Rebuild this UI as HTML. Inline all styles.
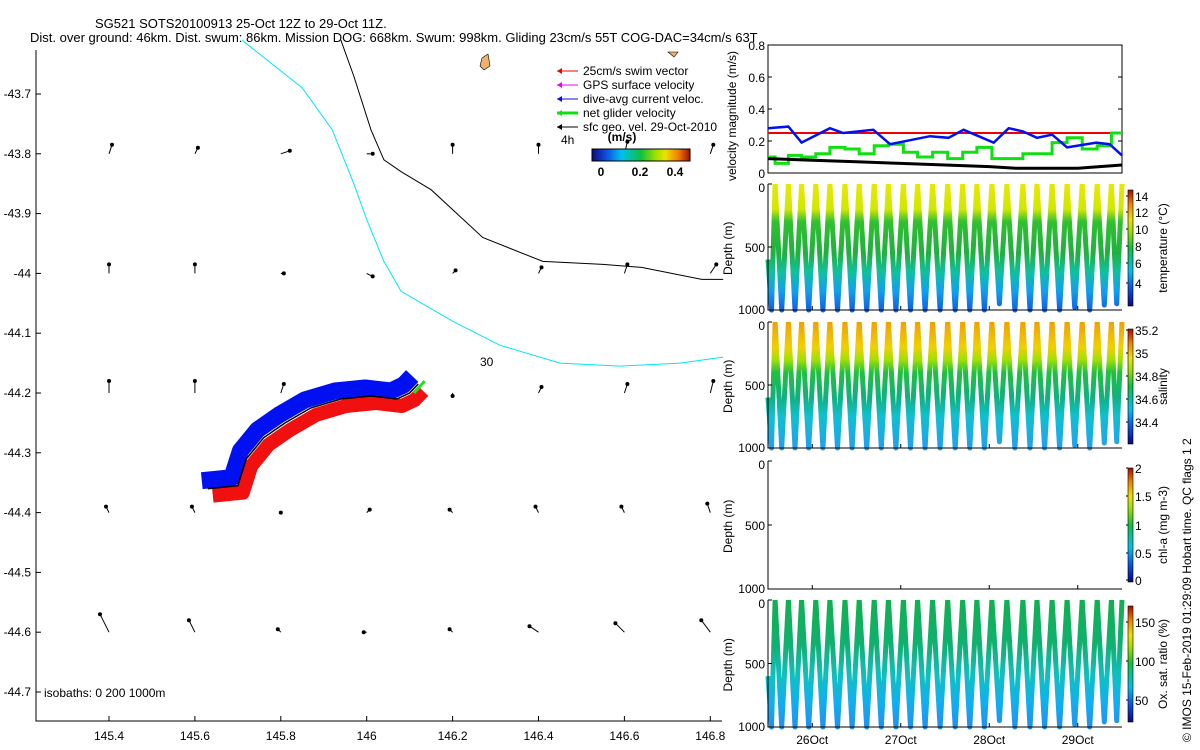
<!DOCTYPE html>
<html><head><meta charset="utf-8"><style>
body{margin:0;background:#fff;}
svg{display:block;font-family:"Liberation Sans",sans-serif;}
text{font-size:12px;fill:#000;}
</style></head><body>
<svg id="s" width="1200" height="750" viewBox="0 0 1200 750" xmlns="http://www.w3.org/2000/svg">
<defs>
<linearGradient id="jetH" x1="0" x2="1" y1="0" y2="0">
<stop offset="0" stop-color="#0a0a80"/><stop offset="0.15" stop-color="#1050e0"/><stop offset="0.3" stop-color="#00c0f0"/><stop offset="0.5" stop-color="#10c040"/><stop offset="0.65" stop-color="#a0e000"/><stop offset="0.75" stop-color="#f0e000"/><stop offset="0.88" stop-color="#f08000"/><stop offset="1" stop-color="#a01000"/></linearGradient>
<linearGradient id="jetV" x1="0" x2="0" y1="1" y2="0">
<stop offset="0" stop-color="#0a0a80"/><stop offset="0.15" stop-color="#1050e0"/><stop offset="0.3" stop-color="#00c0f0"/><stop offset="0.5" stop-color="#10c040"/><stop offset="0.65" stop-color="#a0e000"/><stop offset="0.75" stop-color="#f0e000"/><stop offset="0.88" stop-color="#f08000"/><stop offset="1" stop-color="#a01000"/></linearGradient>
<linearGradient id="gT" gradientUnits="userSpaceOnUse" x1="0" x2="0" y1="184" y2="310">
<stop offset="0" stop-color="#e8e800"/><stop offset="0.2" stop-color="#d0e800"/><stop offset="0.3" stop-color="#30c030"/><stop offset="0.55" stop-color="#20b040"/><stop offset="0.7" stop-color="#10c0a0"/><stop offset="0.85" stop-color="#10a0f0"/><stop offset="1" stop-color="#1060e0"/></linearGradient>
<linearGradient id="gS" gradientUnits="userSpaceOnUse" x1="0" x2="0" y1="322" y2="448">
<stop offset="0" stop-color="#f0a000"/><stop offset="0.2" stop-color="#f0d000"/><stop offset="0.3" stop-color="#a0e000"/><stop offset="0.4" stop-color="#20c040"/><stop offset="0.6" stop-color="#10b080"/><stop offset="0.75" stop-color="#10c0d0"/><stop offset="1" stop-color="#20a0f0"/></linearGradient>
<linearGradient id="gO" gradientUnits="userSpaceOnUse" x1="0" x2="0" y1="600" y2="727">
<stop offset="0" stop-color="#10b050"/><stop offset="0.35" stop-color="#10b070"/><stop offset="0.6" stop-color="#10c0c0"/><stop offset="0.8" stop-color="#10b0f0"/><stop offset="1" stop-color="#2090f0"/></linearGradient>
</defs>
<g id="titles">
<text x="95" y="28" style="font-size:13px">SG521 SOTS20100913 25-Oct 12Z to 29-Oct 11Z.</text>
<text x="30" y="42" style="font-size:13px">Dist. over ground: 46km. Dist. swum: 86km. Mission DOG: 668km. Swum: 998km. Gliding 23cm/s 55T COG-DAC=34cm/s 63T</text>
</g>
<g id="map"></g>
<g id="right"></g>
<text transform="translate(1191,742) rotate(-90)">© IMOS 15-Feb-2019 01:29:09 Hobart time. QC flags 1  2</text>
</svg>
<script>
// ---------- Map data ----------
const lonTicks=[145.4,145.6,145.8,146,146.2,146.4,146.6,146.8];
const latTicks=[-43.7,-43.8,-43.9,-44,-44.1,-44.2,-44.3,-44.4,-44.5,-44.6,-44.7];
const gridLons=[145.4,145.6,145.8,146,146.2,146.4,146.6,146.8];
const gridLats=[-43.8,-44.0,-44.2,-44.4,-44.6];
const gridU=[[0.01,0.01,0.03,0.02,0,0,0.01,0.01],[0,0,0.01,0.02,0.01,0.01,0.01,0.02],[0,0,0.01,0,0,0.01,0.01,0.01],[-0.01,-0.01,0,0.01,-0.01,-0.01,-0.01,-0.01],[-0.03,-0.02,-0.01,-0.01,-0.01,-0.03,-0.03,-0.03]];
const gridV=[[0.03,0.02,0.01,0,0.03,0.03,0.04,0.03],[0.03,0.03,0,-0.01,0.01,0.02,0.03,0.03],[0.04,0.04,0.03,0,-0.01,0.02,0.03,0.04],[0.02,0.02,0,0.01,0.01,0.02,0.02,0.03],[0.06,0.04,0.01,0,0.01,0.02,0.03,0.04]];
const isoCyanLon=[145.71,145.85,145.92,145.97,146.0,146.04,146.08,146.2,146.31,146.45,146.59,146.73,146.83];
const isoCyanLat=[-43.61,-43.69,-43.76,-43.85,-43.91,-43.98,-44.03,-44.08,-44.12,-44.15,-44.155,-44.15,-44.14];
const isoBlackLon=[145.94,145.97,146.01,146.04,146.08,146.15,146.27,146.41,146.55,146.64,146.78,146.83];
const isoBlackLat=[-43.61,-43.67,-43.76,-43.81,-43.83,-43.86,-43.94,-43.98,-43.985,-43.99,-44.01,-44.01];
const trackLon=[145.63,145.7,145.72,145.76,145.81,145.87,145.94,146.01,146.07,146.1,146.12];
const trackLat=[-44.36,-44.355,-44.31,-44.275,-44.25,-44.225,-44.21,-44.205,-44.21,-44.2,-44.185];
// ---------- Time-series data ----------
const velTicks=[0,0.2,0.4,0.6,0.8];
const blueT=[25.5,25.73,25.88,26.2,26.35,26.69,26.88,27.33,27.54,27.71,28.05,28.22,28.38,28.54,28.71,28.88,29.21,29.36,29.5];
const blueV=[0.28,0.29,0.19,0.28,0.25,0.27,0.18,0.23,0.22,0.27,0.19,0.28,0.26,0.22,0.24,0.16,0.19,0.18,0.11];
const redV=0.25;
const blackT=[25.5,26.0,26.5,27.0,27.5,28.0,28.3,28.7,29.0,29.5];
const blackV=[0.09,0.08,0.07,0.06,0.05,0.04,0.03,0.03,0.03,0.05];
const diveT=[25.5,25.58,25.73,25.88,26.04,26.2,26.37,26.53,26.7,26.86,27.03,27.19,27.36,27.53,27.7,27.86,28.03,28.2,28.38,28.54,28.71,28.88,29.05,29.22,29.38,29.5];
const greenV=[0.1,0.06,0.11,0.1,0.12,0.16,0.15,0.12,0.17,0.18,0.13,0.1,0.13,0.09,0.13,0.16,0.09,0.09,0.12,0.12,0.19,0.22,0.15,0.17,0.25];
const diveDepth=[1000,1000,1000,1000,1000,1000,1000,1000,1000,1000,1000,1000,1000,1000,1000,1000,950,1000,1000,1000,1000,980,1000,960,950];
const dayTicks=[26,27,28,29];
const dayLabels=["26Oct","27Oct","28Oct","29Oct"];
const depthTicks=[0,500,1000];

const NS="http://www.w3.org/2000/svg";
function mk(parent,tag,attrs,txt){const e=document.createElementNS(NS,tag);for(const k in attrs)e.setAttribute(k,attrs[k]);if(txt!==undefined)e.textContent=txt;parent.appendChild(e);return e;}

// ---------- Map ----------
const map=document.getElementById('map');
const X=lon=>109+(lon-145.4)/0.2*85.9;
const Y=lat=>94+(-43.7-lat)/0.1*59.8;
const pts=(lo,la)=>lo.map((v,i)=>X(v).toFixed(1)+','+Y(la[i]).toFixed(1)).join(' ');
let ax=mk(map,'path',{d:'M36,50 V721 H722',fill:'none',stroke:'#000','stroke-width':1});


lonTicks.forEach(l=>{
  mk(map,'line',{x1:X(l),x2:X(l),y1:721,y2:716,stroke:'#000'});
  const t=mk(map,'text',{x:X(l),y:740,'text-anchor':'middle'},String(l));
  
  
});
latTicks.forEach(l=>{
  mk(map,'line',{x1:36,x2:41,y1:Y(l),y2:Y(l),stroke:'#000'});
  const t=mk(map,'text',{x:31,y:Y(l)+4,'text-anchor':'end'},String(l));
  
  
});
let c=mk(map,'polyline',{points:pts(isoCyanLon,isoCyanLat),fill:'none',stroke:'#00e8f0','stroke-width':1});


c=mk(map,'polyline',{points:pts(isoBlackLon,isoBlackLat),fill:'none',stroke:'#000','stroke-width':1});


mk(map,'text',{x:480,y:366},'30');
mk(map,'path',{d:'M482,58 L488,54 L490,66 L484,70 L480,66 Z',fill:'#f0b070',stroke:'#000','stroke-width':0.6});
mk(map,'path',{d:'M668,52 L678,52 L674,57 Z',fill:'#f0b070',stroke:'#000','stroke-width':0.6});
gridLats.forEach((la,i)=>gridLons.forEach((lo,j)=>{
  const x0=X(lo),y0=Y(la),x1=x0+gridU[i][j]*300,y1=y0-gridV[i][j]*300;
  const g=mk(map,'g',{});
  
  
  mk(g,'line',{x1:x0,y1:y0,x2:x1,y2:y1,stroke:'#000','stroke-width':1});
  mk(g,'circle',{cx:x1,cy:y1,r:2,fill:'#000'});
}));
let tr=mk(map,'polyline',{points:trackLon.map((v,i)=>(X(v)-6).toFixed(1)+','+(Y(trackLat[i])-8).toFixed(1)).join(' '),fill:'none',stroke:'#0010f0','stroke-width':17,'stroke-linejoin':'round'});


tr=mk(map,'polyline',{points:trackLon.map((v,i)=>(X(v)+5).toFixed(1)+','+(Y(trackLat[i])+7).toFixed(1)).join(' '),fill:'none',stroke:'#f01010','stroke-width':14,'stroke-linejoin':'round'});


tr=mk(map,'polyline',{points:pts(trackLon,trackLat),fill:'none',stroke:'#000','stroke-width':1.5});


mk(map,'line',{x1:X(146.11),y1:Y(-44.2),x2:X(146.135),y2:Y(-44.18),stroke:'#20e020','stroke-width':3});
let iso=mk(map,'text',{x:44,y:697},'isobaths: 0    200   1000m');


// legend
const leg=mk(map,'g',{});


const legItems=[['#f00000','25cm/s swim vector',1],['#f000f0','GPS surface velocity',1],['#0010f0','dive-avg current veloc.',1],['#10e010','net glider velocity',3],['#000','sfc geo. vel. 29-Oct-2010',1]];
legItems.forEach((it,i)=>{
  const y=71+i*14;
  const g=mk(leg,'g',{});
  
  
  mk(g,'line',{x1:557,x2:578,y1:y,y2:y,stroke:it[0],'stroke-width':it[2]});
  mk(g,'path',{d:`M557,${y} l5,-3 v6 z`,fill:it[0]});
  mk(g,'text',{x:583,y:y+4},it[1]);
});
mk(map,'text',{x:561,y:144},'4h');
const cb=mk(map,'rect',{x:592,y:149,width:98,height:12,fill:'url(#jetH)',stroke:'#000'});


mk(map,'text',{x:622,y:141,'text-anchor':'middle',style:'font-weight:bold'},'(m/s)');
[['0',601],['0.2',640],['0.4',675]].forEach(a=>mk(map,'text',{x:a[1],y:176,'text-anchor':'middle',style:'font-weight:bold'},a[0]));

// ---------- Right panels ----------
const R=document.getElementById('right');
const L=768,Rr=1122;
const TX=d=>L+(d-25.5)/(29.5-25.5)*(Rr-L);
const vTop=45,vBot=173;
const VY=v=>vBot-v/0.8*(vBot-vTop);
let vb=mk(R,'rect',{x:L,y:vTop,width:Rr-L,height:vBot-vTop,fill:'none',stroke:'#000'});


velTicks.forEach(v=>{
  mk(R,'line',{x1:L,x2:L+4,y1:VY(v),y2:VY(v),stroke:'#000'});
  mk(R,'line',{x1:Rr,x2:Rr-4,y1:VY(v),y2:VY(v),stroke:'#000'});
  mk(R,'text',{x:L-3,y:VY(v)+5,'text-anchor':'end'},String(v));
});
mk(R,'text',{transform:`translate(${L-32},${vBot+8}) rotate(-90)`},'velocity magnitude (m/s)');
let ln=mk(R,'line',{x1:L,x2:Rr,y1:VY(redV),y2:VY(redV),stroke:'#f00000','stroke-width':2});


let gp='';
greenV.forEach((v,i)=>{gp+=(i?' L':'M')+TX(diveT[i]).toFixed(1)+','+VY(v).toFixed(1)+' L'+TX(diveT[i+1]).toFixed(1)+','+VY(v).toFixed(1);});
ln=mk(R,'path',{d:gp,fill:'none',stroke:'#10e010','stroke-width':3});


ln=mk(R,'polyline',{points:blackT.map((t,i)=>TX(t).toFixed(1)+','+VY(blackV[i]).toFixed(1)).join(' '),fill:'none',stroke:'#000','stroke-width':3});


ln=mk(R,'polyline',{points:blueT.map((t,i)=>TX(t).toFixed(1)+','+VY(blueV[i]).toFixed(1)).join(' '),fill:'none',stroke:'#0010f0','stroke-width':2.5});



const panels=[
 {top:184,bot:310,grad:'url(#gT)',name:'temperature-panel',label:'temperature (°C)',cb:[190,306],ticks:[['14',196],['12',212],['10',229],['8',246],['6',263],['4',283]],data:true},
 {top:322,bot:448,grad:'url(#gS)',name:'salinity-panel',label:'salinity',cb:[329,444],ticks:[['35.2',330],['35',353],['34.8',376],['34.6',399],['34.4',422]],data:true},
 {top:461,bot:589,grad:null,name:'chlorophyll-panel',label:'chl-a (mg m-3)',cb:[468,582],ticks:[['2',468],['1.5',496],['1',525],['0.5',553],['0',580]],data:false},
 {top:600,bot:727,grad:'url(#gO)',name:'oxygen-panel',label:'Ox. sat. ratio (%)',cb:[606,722],ticks:[['150',622],['100',661],['50',700]],data:true}];
panels.forEach(p=>{
  const g=mk(R,'g',{});
  
  
  const DY=d=>p.top+d/1000*(p.bot-p.top);
  if(p.data){
    let pp='';
    for(let i=0;i<diveT.length-1;i++){
      const t0=diveT[i],t1=diveT[i+1],tm=(t0+t1)/2;
      const d0=i===0?600:0;
      pp+=`M${TX(t0).toFixed(1)},${DY(d0).toFixed(1)} L${TX(tm).toFixed(1)},${DY(diveDepth[i]).toFixed(1)} L${TX(t1).toFixed(1)},${DY(0).toFixed(1)} `;
    }
    const pr=mk(g,'path',{d:pp,fill:'none',stroke:p.grad,'stroke-width':5,'stroke-linejoin':'round'});
    
    
  }
  mk(g,'path',{d:`M${L},${p.top} V${p.bot} H${Rr}`,fill:'none',stroke:'#000'});
  depthTicks.forEach(d=>{
    mk(g,'line',{x1:L,x2:L+4,y1:DY(d),y2:DY(d),stroke:'#000'});
    mk(g,'text',{x:L-3,y:DY(d)+(d===0?8:d===1000?4:5),'text-anchor':'end'},String(d));
  });
  dayTicks.forEach(d=>mk(g,'line',{x1:TX(d),x2:TX(d),y1:p.bot,y2:p.bot-4,stroke:'#000'}));
  mk(g,'text',{transform:`translate(${L-36},${(p.top+p.bot)/2+28}) rotate(-90)`},'Depth (m)');
  const cbar=mk(g,'rect',{x:1128,y:p.cb[0],width:5,height:p.cb[1]-p.cb[0],fill:'url(#jetV)',stroke:'#000','stroke-width':0.6});
  
  
  p.ticks.forEach(t=>{mk(g,'line',{x1:1126,x2:1128,y1:t[1],y2:t[1],stroke:'#000'});mk(g,'text',{x:1135,y:t[1]+5},t[0]);});
  mk(g,'text',{transform:`translate(1167,${(p.cb[0]+p.cb[1])/2}) rotate(-90)`,'text-anchor':'middle'},p.label);
});
dayTicks.forEach((d,i)=>{
  const t=mk(R,'text',{x:TX(d),y:744,'text-anchor':'middle'},dayLabels[i]);
  
  
});
</script>
</body></html>
